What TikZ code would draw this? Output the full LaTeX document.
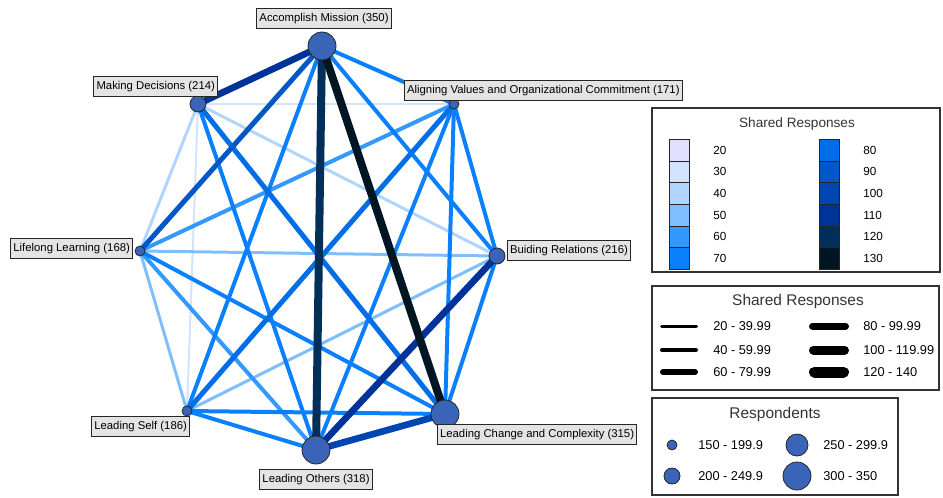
\documentclass[tikz,border=0pt]{standalone}
\usepackage{fontspec}
\setmainfont{Liberation Sans}
\usetikzlibrary{backgrounds}

% edge colours, one per step of the scale
\definecolor{c20}{HTML}{E2E0FF}
\definecolor{c30}{HTML}{D2E2FF}
\definecolor{c40}{HTML}{B0D6FF}
\definecolor{c50}{HTML}{80BFFF}
\definecolor{c60}{HTML}{3399FF}
\definecolor{c70}{HTML}{0A80FF}
\definecolor{c80}{HTML}{006EE6}
\definecolor{c90}{HTML}{0058C8}
\definecolor{c100}{HTML}{0046B0}
\definecolor{c110}{HTML}{003399}
\definecolor{c120}{HTML}{00305A}
\definecolor{c130}{HTML}{001622}
\definecolor{nodeblue}{HTML}{3A64B8}
\definecolor{labelgray}{HTML}{E4E4E4}

\tikzset{
  vertex/.style={circle, draw=black!85, fill=nodeblue, line width=0.6pt, inner sep=0pt},
  s150/.style={vertex, minimum size=7.5pt},
  s200/.style={vertex, minimum size=12pt},
  s250/.style={vertex, minimum size=16.5pt},
  s300/.style={vertex, minimum size=21pt},
  tag/.style={draw=black!85, fill=labelgray, line width=0.6pt,
    font=\fontsize{8.5}{9}\selectfont, inner xsep=2pt, inner ysep=3pt,
    text height=7pt, text depth=2pt},
  e20/.style={c20, line width=1.5pt},   e30/.style={c30, line width=1.5pt},
  e40/.style={c40, line width=2.25pt},  e50/.style={c50, line width=2.25pt},
  e60/.style={c60, line width=3pt},     e70/.style={c70, line width=3pt},
  e80/.style={c80, line width=3.75pt},  e90/.style={c90, line width=3.75pt},
  e100/.style={c100, line width=5pt},   e110/.style={c110, line width=5pt},
  e120/.style={c120, line width=6pt},   e130/.style={c130, line width=6pt},
  frame/.style={draw=black!80, line width=0.9pt},
  ltitle/.style={text=black!80, font=\fontsize{10.2}{12}\selectfont},
  ltitlebig/.style={text=black!80, font=\fontsize{11.6}{13}\selectfont},
  litem/.style={anchor=west, inner sep=0pt, font=\fontsize{8.8}{10}\selectfont},
  litembig/.style={anchor=west, inner sep=0pt, font=\fontsize{9.6}{11}\selectfont},
  swatch/.style={draw=black!85, line width=0.6pt, minimum width=15pt, minimum height=16.25pt, inner sep=0pt},
  sample/.style={black, line cap=round}
}

\begin{document}
\begin{tikzpicture}[x=0.75pt, y=-0.75pt]
  \useasboundingbox (0,0) rectangle (943,497);

  % Competencies
  \node[s300] (AM) at (322,46) {};
  \node[s200] (MD) at (198,104) {};
  \node[s150] (AV) at (454,104) {};
  \node[s200] (BR) at (497,256) {};
  \node[s150] (LL) at (140,251) {};
  \node[s150] (LS) at (187,411) {};
  \node[s300] (LO) at (316,450) {};
  \node[s300] (LC) at (445,414) {};

  % Shared responses, light ones first
  \begin{scope}[on background layer]
    \foreach \a/\b/\v in {MD/AV/30, MD/LS/30, MD/LL/40, MD/BR/40,
        LL/BR/50, LL/LS/50, BR/LS/50, AV/LL/60, LL/LO/60,
        AM/AV/70, AM/BR/70, AM/LS/70, MD/LO/70, AV/LO/70, AV/LC/70,
        AV/BR/70, LL/LC/70, BR/LC/70, LS/LO/70, LS/LC/70,
        MD/LC/80, AV/LS/80, AM/LL/90, LO/LC/100, AM/MD/110, BR/LO/110,
        AM/LO/120, AM/LC/130}
      \draw[e\v] (\a.center) -- (\b.center);
  \end{scope}

  % Labels
  \node[tag] (tAM) at (324,18.5) {Accomplish Mission (350)};
  \node[tag, anchor=east] (tMD) at (218,86) {Making Decisions (214)};
  \node[tag, anchor=west] (tAV) at (404,90) {Aligning Values and Organizational Commitment (171)};
  \node[tag, anchor=west] (tBR) at (507,250) {Buiding Relations (216)};
  \node[tag, anchor=east] (tLL) at (133,248) {Lifelong Learning (168)};
  \node[tag, anchor=east] (tLS) at (190,426) {Leading Self (186)};
  \node[tag] (tLO) at (316,479) {Leading Others (318)};
  \node[tag, anchor=west] (tLC) at (437,434) {Leading Change and Complexity (315)};

  % Legend: colour scale
  \draw[frame] (652,108) rectangle (940,272);
  \node[ltitle] (lgColor) at (797,124) {Shared Responses};
  \foreach \v [count=\i from 0] in {20,30,40,50,60,70} {
    \node[swatch, fill=c\v] (sw\v) at (679,150.2+21.67*\i) {};
    \node[litem] (lv\v) at (713,150.2+21.67*\i) {\v};
  }
  \foreach \v [count=\i from 0] in {80,90,100,110,120,130} {
    \node[swatch, fill=c\v] (sw\v) at (829.5,150.2+21.67*\i) {};
    \node[litem] (lv\v) at (863,150.2+21.67*\i) {\v};
  }

  % Legend: line widths
  \draw[frame] (652,286) rectangle (939,390);
  \node[ltitlebig] (lgWidth) at (798,301) {Shared Responses};
  \draw[sample, line width=2.25pt] (661.5,326) -- (696.5,326);
  \draw[sample, line width=3pt] (662,350) -- (696,350);
  \draw[sample, line width=4.5pt] (663,372) -- (695,372);
  \draw[sample, line width=5.25pt] (812.5,326) -- (845.5,326);
  \draw[sample, line width=6.75pt] (813.5,350) -- (844.5,350);
  \draw[sample, line width=8.25pt] (814.5,372) -- (843.5,372);
  \node[litembig] (lw20) at (713,326) {20 - 39.99};
  \node[litembig] (lw40) at (713,350) {40 - 59.99};
  \node[litembig] (lw60) at (713,372) {60 - 79.99};
  \node[litembig] (lw80) at (863,326) {80 - 99.99};
  \node[litembig] (lw100) at (863,350) {100 - 119.99};
  \node[litembig] (lw120) at (863,372) {120 - 140};

  % Legend: respondents
  \draw[frame] (652,398) rectangle (898,495);
  \node[ltitlebig] (lgSize) at (775,414) {Respondents};
  \node[s150] (r150) at (672,445) {};
  \node[s200] (r200) at (672,476) {};
  \node[s250] (r250) at (797,445) {};
  \node[s300] (r300) at (797,476) {};
  \node[litembig] (lr150) at (698,445) {150 - 199.9};
  \node[litembig] (lr200) at (698,476) {200 - 249.9};
  \node[litembig] (lr250) at (823,445) {250 - 299.9};
  \node[litembig] (lr300) at (823,476) {300 - 350};
\end{tikzpicture}
\end{document}
